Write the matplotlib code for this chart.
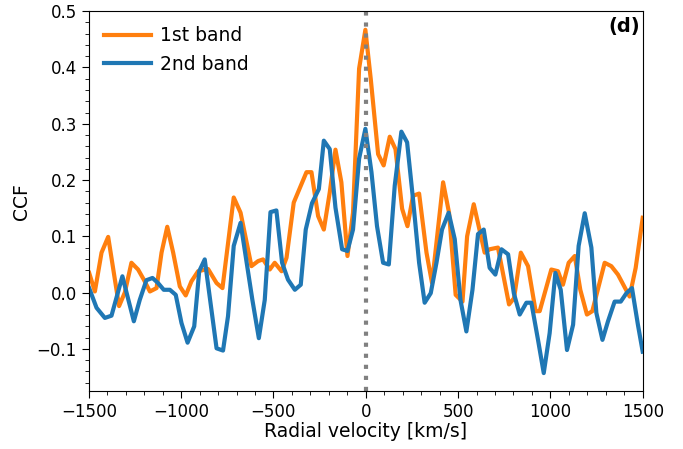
import matplotlib
matplotlib.use("Agg")
import matplotlib.pyplot as plt
from matplotlib.ticker import MultipleLocator

# velocidades y valores (1st band)
v_band1 = [-1498, -1467, -1431, -1395, -1336, -1305, -1269, -1233, -1202, -1169,
           -1133, -1106, -1075, -1043, -1007, -975, -944, -908, -854, -808,
           -776, -715, -678, -619, -583, -556, -520, -493, -456, -429,
           -390, -321, -294, -258, -227, -195, -164, -132, -99, -69,
           -36, -2, 27, 67, 97, 130, 161, 197, 226, 256,
           289, 329, 359, 419, 451, 487, 524, 549, 585, 644,
           671, 716, 776, 803, 840, 879, 920, 942, 1005, 1041,
           1068, 1099, 1132, 1162, 1198, 1227, 1294, 1330, 1366, 1429,
           1462, 1500]
ccf_band1 = [0.035, 0.002, 0.071, 0.099, -0.024, 0.000, 0.053, 0.041, 0.023, 0.002,
             0.008, 0.071, 0.117, 0.071, 0.011, -0.005, 0.020, 0.038, 0.042, 0.017,
             0.008, 0.169, 0.142, 0.047, 0.056, 0.059, 0.041, 0.053, 0.038, 0.062,
             0.160, 0.214, 0.214, 0.136, 0.112, 0.178, 0.254, 0.196, 0.065, 0.142,
             0.398, 0.467, 0.380, 0.246, 0.226, 0.277, 0.255, 0.149, 0.118, 0.172,
             0.176, 0.071, 0.017, 0.196, 0.142, -0.004, -0.016, 0.100, 0.157, 0.071,
             0.077, 0.080, -0.021, -0.010, 0.071, 0.047, -0.033, -0.033, 0.041, 0.038,
             0.014, 0.053, 0.065, 0.005, -0.039, -0.033, 0.053, 0.047, 0.032, -0.007,
             0.044, 0.133]

# 2nd band
v_band2 = [-1498, -1458, -1413, -1377, -1318, -1256, -1224, -1188, -1155, -1125,
           -1094, -1061, -1029, -998, -965, -929, -902, -872, -808, -773,
           -746, -715, -678, -614, -579, -547, -516, -484, -453, -421,
           -384, -352, -325, -291, -254, -227, -195, -164, -128, -99,
           -69, -36, -2, 31, 61, 94, 125, 157, 193, 224,
           256, 289, 319, 352, 383, 413, 449, 482, 513, 545,
           578, 608, 639, 671, 702, 735, 771, 802, 834, 870,
           897, 933, 964, 996, 1027, 1056, 1090, 1123, 1153, 1186,
           1222, 1249, 1282, 1312, 1348, 1381, 1412, 1442, 1474, 1500]
ccf_band2 = [0.008, -0.027, -0.045, -0.041, 0.029, -0.051, -0.013, 0.022, 0.026, 0.017,
             0.005, 0.005, -0.004, -0.054, -0.089, -0.060, 0.038, 0.059, -0.099, -0.103,
             -0.042, 0.083, 0.124, -0.013, -0.081, -0.013, 0.143, 0.146, 0.053, 0.023,
             0.005, 0.014, 0.112, 0.159, 0.184, 0.270, 0.255, 0.151, 0.077, 0.074,
             0.112, 0.238, 0.291, 0.214, 0.118, 0.053, 0.050, 0.190, 0.286, 0.267,
             0.166, 0.053, -0.018, -0.001, 0.053, 0.112, 0.142, 0.095, -0.013, -0.069,
             0.005, 0.104, 0.112, 0.044, 0.032, 0.077, 0.068, -0.001, -0.039, -0.018,
             -0.018, -0.084, -0.143, -0.072, 0.035, 0.005, -0.102, -0.057, 0.083, 0.141,
             0.080, -0.036, -0.084, -0.051, -0.016, -0.016, -0.001, 0.008, -0.057, -0.105]

fig = plt.figure(figsize=(6.83, 4.49), dpi=100)
ax = fig.add_axes([0.130, 0.129, 0.811, 0.846])

ax.plot(v_band1, ccf_band1, color='#ff7f0e', lw=3, label='1st band')
ax.plot(v_band2, ccf_band2, color='#1f77b4', lw=3, label='2nd band')
ax.axvline(0, color='grey', ls=':', lw=3)

ax.set_xlim(-1500, 1500)
ax.set_ylim(-0.175, 0.5)
ax.xaxis.set_major_locator(MultipleLocator(500))
ax.xaxis.set_minor_locator(MultipleLocator(100))
ax.yaxis.set_major_locator(MultipleLocator(0.1))
ax.yaxis.set_minor_locator(MultipleLocator(0.02))
ax.tick_params(labelsize=12)
ax.tick_params(which='major', length=5)
ax.tick_params(which='minor', length=3)

ax.set_xlabel('Radial velocity [km/s]', fontsize=13.5, labelpad=1)
ax.set_ylabel('CCF', fontsize=13.5)
ax.text(0.995, 0.985, '(d)', transform=ax.transAxes, ha='right', va='top',
        fontsize=14, fontweight='bold')
ax.legend(loc='upper left', frameon=False, fontsize=13.5, handlelength=2.5,
          handletextpad=0.5, borderaxespad=0.4)

fig.savefig('out.png', dpi=100)
